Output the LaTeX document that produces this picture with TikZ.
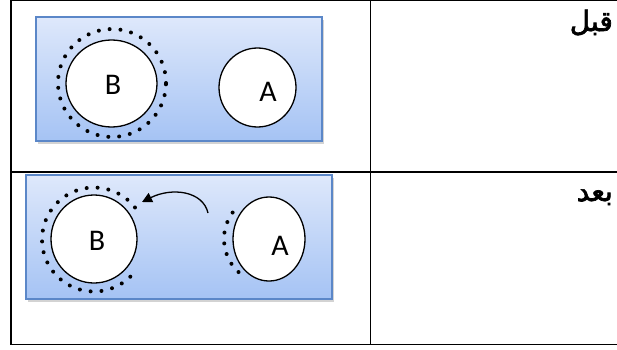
\documentclass[tikz,border=0pt]{standalone}
\usepackage{fontspec}
\setmainfont{Carlito}
\newfontfamily\arabicfont[Script=Arabic,FakeBold=2.5]{DejaVu Sans}
\TeXXeTstate=1
\usetikzlibrary{shapes.geometric,shadows,arrows.meta}
\definecolor{boxtop}{HTML}{DEE8FB}
\definecolor{boxbot}{HTML}{A5C3F4}
\definecolor{boxedge}{HTML}{5B87C8}
\tikzset{
  x=1pt, y=1pt,
  grid/.style={line width=1.6pt, black},
  panel/.style={draw=boxedge, line width=1.3pt, top color=boxtop, bottom color=boxbot,
    drop shadow={opacity=0.35, shadow xshift=2pt, shadow yshift=-3pt}},
  ball/.style={ellipse, draw=black, line width=1.3pt, fill=white, inner sep=0pt},
  ring/.style={line width=4pt, dash pattern=on 0pt off 10.9pt, line cap=round},
  lbl/.style={font=\fontsize{30}{30}\selectfont},
  arlbl/.style={font=\arabicfont\fontsize{28}{28}\selectfont, anchor=base east, inner sep=0pt},
  move/.style={line width=1.3pt, -{Triangle[length=10pt, width=10pt]}}
}
\begin{document}
\begin{tikzpicture}
\useasboundingbox (0,0) rectangle (617,349);
% table lines
\draw[grid] (11,348.5) -- (617,348.5);
\draw[grid] (11,177) -- (617,177);
\draw[grid] (11,4.5) -- (617,4.5);
\draw[grid] (11,349) -- (11,4);
\draw[grid] (370.5,349) -- (370.5,4);
% labels
\node[arlbl] (before) at (613,318) {\beginR قبل\endR};
\node[arlbl] (after) at (613,148) {\beginR بعد\endR};
% top panel
\node[panel, minimum width=286pt, minimum height=124pt, inner sep=0pt] (p1) at (179,270) {};
\draw[ring] (112,266) circle[radius=54];
\node[ball, minimum width=91pt, minimum height=87pt] (b1) at (111.5,265.5) {};
\node[lbl] (bt1) at (113,264) {B};
\node[ball, minimum width=77pt, minimum height=79pt] (a1) at (257.5,261.5) {};
\node[lbl] (at1) at (268,257) {A};
% bottom panel
\node[panel, minimum width=306pt, minimum height=124pt, inner sep=0pt] (p2) at (179,112) {};
\draw[ring] (94,109.5) ++(38:52) arc[start angle=38, end angle=319, radius=52];
\node[ball, minimum width=86pt, minimum height=88pt] (b2) at (94,110) {};
\node[lbl] (bt2) at (97,108) {B};
\draw[ring] (269,110) ++(144:45) arc[start angle=144, end angle=229, radius=45];
\node[ball, minimum width=72pt, minimum height=84pt] (a2) at (269,110) {};
\node[lbl] (at2) at (280,103) {A};
\coordinate (mstart) at (208,136);
\coordinate (mend) at (142,147);
\draw[move] (mstart) .. controls (203,158) and (172,162) .. (mend);
\end{tikzpicture}
\end{document}
